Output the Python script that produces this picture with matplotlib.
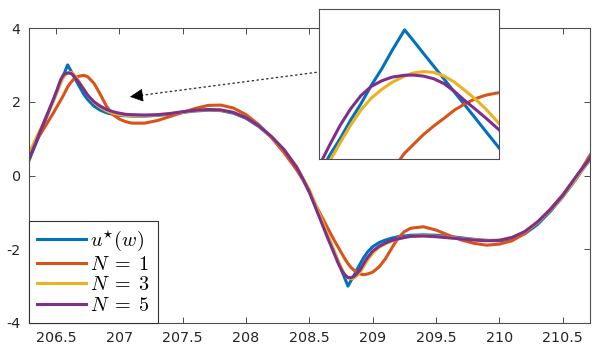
import matplotlib
matplotlib.use('Agg')
import matplotlib.pyplot as plt

plt.rcParams['mathtext.fontset'] = 'cm'
plt.rcParams['font.family'] = 'DejaVu Sans'

# shared frequency grid (finer around the first peak for the inset)
w = [206.25, 206.30, 206.35, 206.40, 206.45, 206.48,
     206.51, 206.52, 206.53, 206.54, 206.55, 206.56, 206.57, 206.58, 206.592,
     206.60, 206.61, 206.62, 206.63, 206.64, 206.65, 206.66, 206.67, 206.68, 206.69,
     206.72, 206.75, 206.80, 206.85,
     206.90, 206.95, 207.00, 207.05, 207.10, 207.20, 207.30, 207.40, 207.50, 207.60,
     207.70, 207.80, 207.90, 208.00, 208.10, 208.20, 208.30, 208.40, 208.45,
     208.50, 208.55, 208.60, 208.65, 208.70, 208.73, 208.76, 208.78, 208.805, 208.83,
     208.85, 208.87, 208.90, 208.93, 208.96, 209.00, 209.05, 209.10, 209.15, 209.20,
     209.25, 209.30, 209.40, 209.50, 209.60, 209.70, 209.80, 209.90, 210.00, 210.10,
     210.20, 210.30, 210.40, 210.50, 210.60, 210.65, 210.70, 210.75]

u_star = [0.09, 0.52, 0.94, 1.37, 1.79, 2.05,
          2.30, 2.39, 2.47, 2.56, 2.64, 2.73, 2.81, 2.90, 3.00,
          2.95, 2.886, 2.823, 2.76, 2.696, 2.633, 2.57, 2.506, 2.443, 2.38,
          2.20, 2.06, 1.88, 1.77,
          1.70, 1.66, 1.63, 1.62, 1.61, 1.61, 1.63, 1.66, 1.71, 1.75,
          1.77, 1.76, 1.69, 1.55, 1.33, 1.04, 0.70, 0.22, -0.10,
          -0.45, -0.85, -1.26, -1.68, -2.11, -2.36, -2.62, -2.79, -3.00, -2.84,
          -2.72, -2.59, -2.40, -2.22, -2.07, -1.93, -1.82, -1.75, -1.70, -1.66,
          -1.64, -1.62, -1.61, -1.62, -1.65, -1.69, -1.73, -1.76, -1.77, -1.72,
          -1.58, -1.33, -0.98, -0.58, -0.12, 0.13, 0.36, 0.62]

n1 = [0.42, 0.69, 0.97, 1.25, 1.53, 1.70,
      1.88, 1.94, 2.00, 2.06, 2.12, 2.185, 2.25, 2.318, 2.40,
      2.44, 2.49, 2.532, 2.57, 2.61, 2.64, 2.665, 2.682, 2.692, 2.70,
      2.715, 2.68, 2.50, 2.20,
      1.87, 1.65, 1.53, 1.46, 1.42, 1.42, 1.49, 1.60, 1.71, 1.82,
      1.90, 1.91, 1.83, 1.65, 1.38, 1.03, 0.62, 0.15, -0.12,
      -0.45, -0.80, -1.13, -1.46, -1.78, -1.96, -2.14, -2.26, -2.39, -2.50,
      -2.56, -2.62, -2.67, -2.69, -2.67, -2.62, -2.48, -2.26, -1.97, -1.70,
      -1.52, -1.43, -1.39, -1.48, -1.62, -1.75, -1.84, -1.89, -1.86, -1.77,
      -1.57, -1.27, -0.92, -0.52, -0.07, 0.18, 0.47, 0.74]

n3 = [0.34, 0.70, 1.06, 1.42, 1.78, 2.02,
      2.27, 2.36, 2.45, 2.535, 2.61, 2.668, 2.71, 2.745, 2.775,
      2.79, 2.797, 2.793, 2.775, 2.745, 2.705, 2.663, 2.615, 2.56, 2.505,
      2.34, 2.18, 1.98, 1.85,
      1.75, 1.69, 1.65, 1.63, 1.62, 1.62, 1.64, 1.68, 1.72, 1.76,
      1.78, 1.77, 1.71, 1.57, 1.35, 1.05, 0.69, 0.24, -0.08,
      -0.38, -0.80, -1.22, -1.66, -2.08, -2.34, -2.56, -2.68, -2.77, -2.80,
      -2.78, -2.73, -2.62, -2.46, -2.29, -2.10, -1.95, -1.85, -1.78, -1.72,
      -1.68, -1.65, -1.63, -1.65, -1.68, -1.71, -1.74, -1.76, -1.75, -1.68,
      -1.53, -1.28, -0.95, -0.57, -0.10, 0.14, 0.38, 0.63]

n5 = [0.15, 0.55, 0.97, 1.40, 1.82, 2.07,
      2.34, 2.44, 2.535, 2.615, 2.68, 2.725, 2.752, 2.770, 2.779,
      2.780, 2.775, 2.762, 2.738, 2.70, 2.655, 2.614, 2.571, 2.526, 2.48,
      2.33, 2.18, 2.00, 1.88,
      1.79, 1.73, 1.69, 1.66, 1.65, 1.64, 1.65, 1.68, 1.73, 1.77,
      1.79, 1.78, 1.71, 1.57, 1.35, 1.06, 0.70, 0.22, -0.10,
      -0.45, -0.88, -1.31, -1.74, -2.15, -2.40, -2.60, -2.70, -2.77, -2.77,
      -2.74, -2.68, -2.56, -2.38, -2.22, -2.05, -1.92, -1.83, -1.76, -1.72,
      -1.68, -1.65, -1.64, -1.66, -1.69, -1.72, -1.75, -1.77, -1.76, -1.68,
      -1.52, -1.26, -0.93, -0.54, -0.05, 0.18, 0.40, 0.65]

labels = [r'$u^{\star}(w)$', r'$N\;=\;1$', r'$N\;=\;3$', r'$N\;=\;5$']
colors = ['#0072BD', '#D95319', '#EDB120', '#7E2F8E']
series = [u_star, n1, n3, n5]

xticks = [206.5, 207, 207.5, 208, 208.5, 209, 209.5, 210, 210.5]
xticklabels = ['206.5', '207', '207.5', '208', '208.5', '209', '209.5', '210', '210.5']
yticks = [-4, -2, 0, 2, 4]
yticklabels = ['-4', '-2', '0', '2', '4']

edge = '#4d4d4d'

fig = plt.figure(figsize=(5.98, 3.47), dpi=100)
ax = fig.add_axes([29 / 598, 1 - 323 / 347, 561 / 598, 295 / 347])
for vals, c, lab in zip(series, colors, labels):
    ax.plot(w, vals, color=c, lw=2.2, label=lab)
ax.set_xlim(206.287, 210.715)
ax.set_ylim(-4, 4)
ax.set_xticks(xticks)
ax.set_xticklabels(xticklabels)
ax.set_yticks(yticks)
ax.set_yticklabels(yticklabels)
ax.tick_params(direction='in', top=True, right=True, length=4, width=0.7,
               color=edge, labelsize=10.3, labelcolor='#262626')
ax.tick_params(axis='x', pad=6)
ax.tick_params(axis='y', pad=6)
for s in ax.spines.values():
    s.set_color(edge)
    s.set_linewidth(0.8)

leg = ax.legend(loc='lower left', bbox_to_anchor=(0, 0), borderaxespad=0,
                fontsize=14.5, handlelength=2.42, handletextpad=0.2,
                labelspacing=0.08, borderpad=0.4, fancybox=False, framealpha=1)
leg.get_frame().set_edgecolor('#333333')
leg.get_frame().set_linewidth(0.8)

# zoomed inset near the first peak
axin = fig.add_axes([319.3 / 598, 1 - 159.3 / 347, 180 / 598, 150 / 347])
for vals, c in zip(series, colors):
    axin.plot(w, vals, color=c, lw=2.2)
axin.set_xlim(206.510, 206.683)
axin.set_ylim(2.37, 3.10)
axin.set_xticks([])
axin.set_yticks([])
for s in axin.spines.values():
    s.set_color(edge)
    s.set_linewidth(0.8)

# dotted pointer from the inset
fig.add_artist(matplotlib.patches.FancyArrowPatch(
    (319 / 598, 1 - 72 / 347), (136 / 598, 1 - 96 / 347),
    transform=fig.transFigure, arrowstyle='-', ls=(0, (1, 2.5)), lw=1, color='#333333'))
fig.add_artist(matplotlib.patches.FancyArrowPatch(
    (140 / 598, 1 - 95.5 / 347), (130 / 598, 1 - 96.8 / 347),
    transform=fig.transFigure, arrowstyle='-|>,head_length=0.7,head_width=0.35',
    mutation_scale=12, lw=0.5, color='black', shrinkA=0, shrinkB=0))

fig.savefig('out.png', dpi=100)
